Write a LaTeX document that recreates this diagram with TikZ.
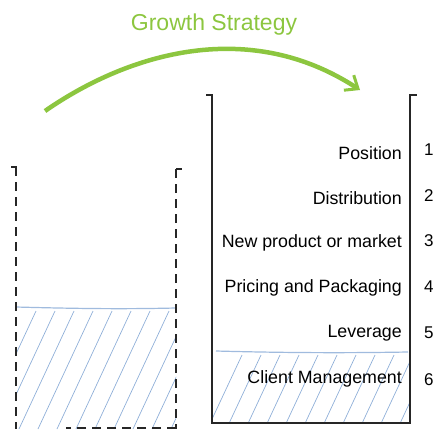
\documentclass[tikz,border=0pt]{standalone}
\usepackage{fontspec}
\setmainfont{Liberation Sans}
\usetikzlibrary{arrows.meta}
\definecolor{leaf}{HTML}{8CC63F}
\definecolor{water}{HTML}{8FAFD8}
\tikzset{
  wall/.style={line width=1.3pt, black!85},
  dashwall/.style={wall, dash pattern=on 9pt off 6pt},
  level/.style={line width=1.2pt, water!85},
  hatch/.style={line width=0.7pt, water},
  item/.style={anchor=east, inner sep=0pt, font=\fontsize{17.8}{21}\selectfont},
  rank/.style={anchor=west, inner sep=0pt, font=\fontsize{17}{20}\selectfont}
}
\begin{document}
\begin{tikzpicture}[x=1pt,y=-1pt]
\useasboundingbox (0,0) rectangle (439,429);

% left container: dashed walls, partly filled
\begin{scope}
  \clip (16,307) rectangle (176,429);
  \foreach \k in {0,...,12}
    \draw[hatch] ({36+19*\k},311) -- ({36+19*\k-55},429);
\end{scope}
\draw[level] (16,307) .. controls (90,309) and (130,309) .. (176,308);
\draw[wall] (11,167) -- (17,167);
\draw[dashwall] (16,167) -- (16,429);
\draw[wall] (176,169) -- (182,169);
\draw[dashwall] (176,169) -- (176,429);
\draw[dashwall] (176,428) -- (66,428);

% right container: solid walls, nearly full
\begin{scope}
  \clip (212,352) rectangle (410,423);
  \foreach \k in {0,...,11}
    \draw[hatch] ({242+19*\k},355) -- ({242+19*\k-36},432);
\end{scope}
\draw[level] (216,351) .. controls (290,353) and (350,353) .. (408,352);
\draw[wall] (206,95) -- (212,95) -- (212,423) -- (410,423) -- (410,95) -- (417,95);

% contents of the right container
\node[item] (pos)  at (402,153) {Position};
\node[item] (dist) at (402,198) {Distribution};
\node[item] (new)  at (402,243) {New product or market};
\node[item] (pric) at (402,288) {Pricing and Packaging};
\node[item] (lev)  at (402,333) {Leverage};
\node[item] (cli)  at (402,379) {Client Management};
\node[rank] (r1) at (424,150) {1};
\node[rank] (r2) at (424,196) {2};
\node[rank] (r3) at (424,241) {3};
\node[rank] (r4) at (424,287) {4};
\node[rank] (r5) at (424,333) {5};
\node[rank] (r6) at (424,380) {6};

% growth arrow
\coordinate (from) at (45,111);
\coordinate (to) at (360,90);
\draw[leaf, line width=4.5pt, -{Straight Barb[length=11pt,width=18pt,line width=3pt]}]
  (from) .. controls (130,52) and (250,18) .. (to);
\node[leaf, inner sep=0pt, font=\fontsize{23}{26}\selectfont] (title) at (214,25) {Growth Strategy};
\end{tikzpicture}
\end{document}
